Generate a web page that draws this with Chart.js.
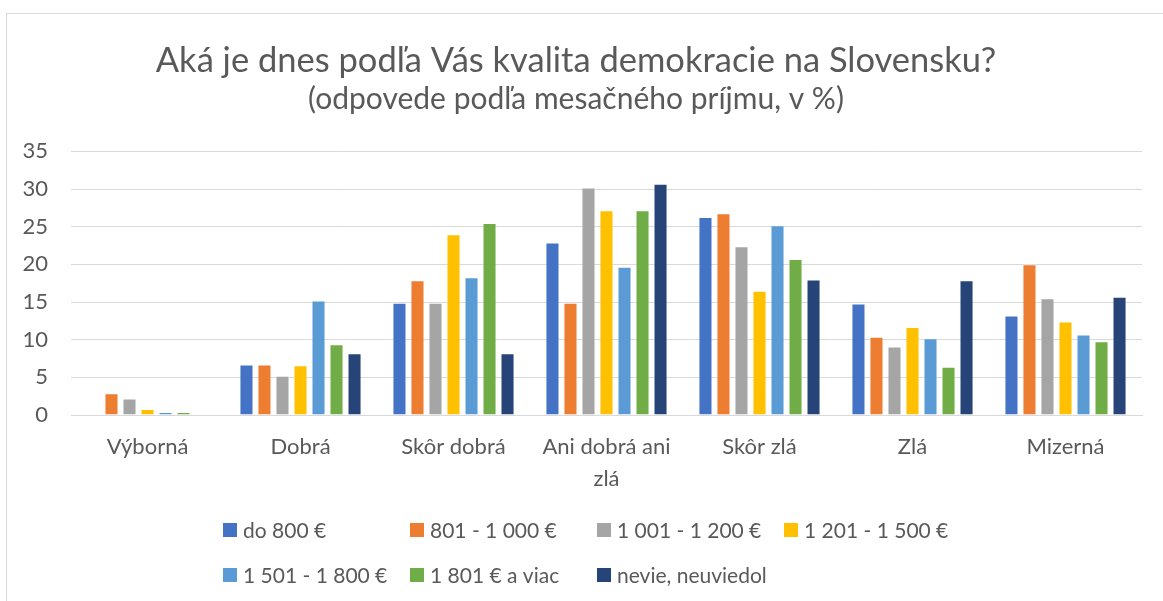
<!DOCTYPE html>
<html>
<head>
<meta charset="utf-8">
<script src="https://cdn.jsdelivr.net/npm/chart.js@4.4.1/dist/chart.umd.min.js"></script>
<style>
  html, body { margin: 0; padding: 0; background: #fff; overflow: hidden; width: 1163px; height: 601px; }
  #frame { position: absolute; left: 6px; top: 13px; width: 1200px; height: 700px; border: 1px solid #d9d9d9; box-sizing: border-box; }
  #c { position: absolute; left: 0; top: 0; }
</style>
</head>
<body>
<div id="frame"></div>
<canvas id="c" width="1163" height="601"></canvas>
<script>
const categories = ["Výborná", "Dobrá", "Skôr dobrá", ["Ani dobrá ani", "zlá"], "Skôr zlá", "Zlá", "Mizerná"];
const seriesNames = ["do 800 €", "801 - 1 000 €", "1 001 - 1 200 €", "1 201 - 1 500 €", "1 501 - 1 800 €", "1 801 € a viac", "nevie, neuviedol"];
const seriesColors = ["#4472C4", "#ED7D31", "#A5A5A5", "#FFC000", "#5B9BD5", "#70AD47", "#264478"];
const do800     = [0,   6.7, 14.9, 22.9, 26.3, 14.8, 13.2];
const s801_1000 = [2.9, 6.7, 17.9, 14.9, 26.8, 10.4, 20.0];
const s1001_1200= [2.2, 5.2, 14.9, 30.2, 22.4, 9.1,  15.5];
const s1201_1500= [0.8, 6.6, 24.0, 27.2, 16.5, 11.7, 12.4];
const s1501_1800= [0.4, 15.2, 18.3, 19.7, 25.2, 10.2, 10.7];
const s1801plus = [0.4, 9.4, 25.5, 27.2, 20.7, 6.4,  9.8];
const nevie     = [0,   8.2, 8.2,  30.7, 18.0, 17.9, 15.7];
const yTicks = [0, 5, 10, 15, 20, 25, 30, 35];
const titleText = "Aká je dnes podľa Vás kvalita demokracie na Slovensku?";
const subtitleText = "(odpovede podľa mesačného príjmu, v %)";

const seriesValues = [do800, s801_1000, s1001_1200, s1201_1500, s1501_1800, s1801plus, nevie];
const FONT = "Lato";
const TXT = "#595959";

const gridLegend = {
  id: 'gridLegend',
  afterDraw(chart) {
    const ctx = chart.ctx;
    const x0 = 223, colW = 187, perRow = 4, rowY = [530, 575];
    ctx.save();
    ctx.font = "21px " + FONT;
    ctx.textBaseline = 'middle';
    ctx.textAlign = 'left';
    chart.data.datasets.forEach((ds, i) => {
      const col = i % perRow, row = Math.floor(i / perRow);
      const x = x0 + col * colW, y = rowY[row];
      ctx.fillStyle = ds.backgroundColor;
      ctx.fillRect(x, y - 7, 14, 14);
      ctx.fillStyle = TXT;
      ctx.fillText(ds.label, x + 20, y + 1);
    });
    ctx.restore();
  }
};

new Chart(document.getElementById('c'), {
  type: 'bar',
  data: {
    labels: categories,
    datasets: seriesNames.map((n, i) => ({
      label: n,
      data: seriesValues[i],
      backgroundColor: seriesColors[i],
      borderColor: 'rgba(255,255,255,0.35)',
      borderWidth: 1,
      categoryPercentage: 0.824,
      barPercentage: 0.78
    }))
  },
  options: {
    responsive: false,
    animation: false,
    layout: { padding: { left: 10, right: 21, top: 0, bottom: 0 } },
    plugins: {
      legend: { display: false },
      tooltip: { enabled: false },
      title: {
        display: true, text: titleText, color: TXT,
        font: { family: FONT, size: 34.5, weight: 'normal', lineHeight: 1.2 },
        padding: { top: 40, bottom: 0 }
      },
      subtitle: {
        display: true, text: subtitleText, color: TXT,
        font: { family: FONT, size: 30, weight: 'normal', lineHeight: 1.2 },
        padding: { top: 0, bottom: 34 }
      }
    },
    scales: {
      x: {
        grid: { display: false, drawTicks: false },
        border: { color: '#d9d9d9', width: 1 },
        ticks: { color: TXT, font: { family: FONT, size: 22, lineHeight: 1.45 }, padding: 16, maxRotation: 0, autoSkip: false },
        afterFit(scale) { scale.height = 186; }
      },
      y: {
        min: 0, max: 35,
        afterBuildTicks(scale) { scale.ticks = yTicks.map(v => ({ value: v })); },
        grid: { color: '#d9d9d9', lineWidth: 1, drawTicks: false },
        border: { display: false },
        ticks: { color: TXT, font: { family: FONT, size: 22 }, padding: 23 },
        afterFit(scale) { scale.width = 61; }
      }
    }
  },
  plugins: [gridLegend]
});
</script>
</body>
</html>
